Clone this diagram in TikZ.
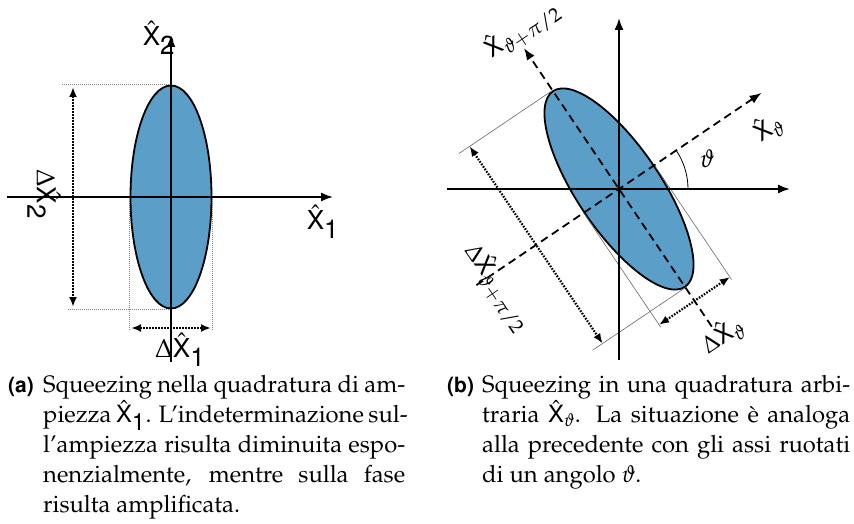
\documentclass[tikz,border=0pt]{standalone}
\usepackage[T1]{fontenc}
\usepackage{mathpazo}
\usepackage{helvet}
\usetikzlibrary{arrows.meta,shapes.geometric}
\DeclareMathSizes{24}{24}{20}{15}
\definecolor{ellblue}{RGB}{91,158,200}
\newcommand\Xh{\hat{\textsf{X}}}
\tikzset{
  axis/.style={line width=1.8pt, -{Latex[length=12pt,width=9pt]}},
  daxis/.style={line width=1.8pt, dash pattern=on 8pt off 5pt, -{Latex[length=12pt,width=9pt]}},
  meas/.style={line width=2.2pt, dash pattern=on 1.6pt off 1.4pt, {Latex[length=10pt,width=8pt]}-{Latex[length=10pt,width=8pt]}},
  guide/.style={gray, line width=0.7pt, dash pattern=on 1pt off 1pt},
  tguide/.style={black!60, line width=0.6pt},
  squeeze/.style={ellipse, fill=ellblue, draw=black, line width=1.8pt, inner sep=0pt},
  lbl/.style={inner sep=0pt, font=\sffamily\fontsize{26}{28}\selectfont},
  lblr/.style={inner sep=0pt, font=\sffamily\fontsize{24}{26}\selectfont},
  captext/.style={inner sep=0pt, anchor=base west, font=\fontsize{23.8}{30}\selectfont},
  caplab/.style={inner sep=0pt, anchor=base west, font=\sffamily\bfseries\fontsize{21}{30}\selectfont},
}
\begin{document}
\begin{tikzpicture}[x=1pt,y=-1pt]
\useasboundingbox (0,0) rectangle (854,524);
% ---------- left diagram
\node[squeeze, minimum width=81pt, minimum height=223pt] (EL) at (171,197) {};
\draw[guide] (EL.north) -- ++(-109,0);
\draw[guide] (EL.south) -- ++(-104,0);
\draw[guide] (EL.west) -- ++(0,133);
\draw[guide] (EL.east) -- ++(0,133);
\coordinate (m2a) at (73,87);
\coordinate (m2b) at (73,307);
\coordinate (m1a) at (131,328);
\coordinate (m1b) at (211,328);
\draw[meas] (m2a) -- (m2b);
\draw[meas] (m1a) -- (m1b);
\coordinate (hxl) at (7,197);
\coordinate (hxr) at (333,197);
\coordinate (vxb) at (171,362);
\coordinate (vxt) at (171,35);
\draw[axis] (hxl) -- (hxr);
\draw[axis] (vxb) -- (vxt);
\node[lbl] (lx2) at (159,38) {$\Xh_{\textsf{2}}$};
\node[lbl] (lx1) at (323,222) {$\Xh_{\textsf{1}}$};
\node[lbl, rotate=-90] (ldx2) at (44,194) {$\Delta\Xh_{\textsf{2}}$};
\node[lbl] (ldx1) at (180,350) {$\Delta\Xh_{\textsf{1}}$};
% ---------- right diagram
\node[squeeze, minimum width=83.6pt, minimum height=236pt, rotate=34] (ER) at (619,189) {};
\draw[tguide] (ER.north) -- ++(214:113pt);
\draw[tguide] (ER.south) -- ++(214:112pt);
\draw[tguide] (ER.east) -- ++(304:138pt);
\draw[tguide] (ER.west) -- ++(304:138pt);
\draw[meas] ([shift={(214:100pt)}]ER.north) -- ([shift={(214:100pt)}]ER.south);
\draw[meas] ([shift={(304:135pt)}]ER.west) -- ([shift={(304:135pt)}]ER.east);
\coordinate (rhl) at (447,189);
\coordinate (rhr) at (790,189);
\coordinate (rvb) at (619,360);
\coordinate (rvt) at (619,18);
\draw[axis] (rhl) -- (rhr);
\draw[axis] (rvb) -- (rvt);
\draw[daxis] ([shift={(214:172pt)}]ER.center) -- ([shift={(34:172pt)}]ER.center);
\draw[daxis] ([shift={(304:166pt)}]ER.center) -- ([shift={(124:170pt)}]ER.center);
\draw[line width=0.8pt] ([shift={(0:69pt)}]ER.center) arc[start angle=0, end angle=34, radius=69pt];
\fill (ER.center) circle (2.2pt);
\node[inner sep=0pt, font=\fontsize{25}{27}\selectfont] (th) at (707,159) {$\vartheta$};
\node[lblr, rotate=34] (rxp) at (522,30) {$\Xh_{\vartheta+\pi/2}$};
\node[lblr, rotate=34] (rx) at (768,128) {$\Xh_{\vartheta}$};
\node[lblr, rotate=-56] (rdxp) at (497,287) {$\Delta\Xh_{\vartheta+\pi/2}$};
\node[lblr, rotate=34] (rdx) at (722,336) {$\Delta\Xh_{\vartheta}$};
% ---------- captions
\node[caplab] (ca) at (8,392) {(a)};
\node[captext] (a1) at (43,392) {\makebox[362pt][s]{Squeezing nella quadratura di am-}};
\node[captext] (a2) at (43,422) {\makebox[362pt][s]{piezza $\Xh_{\textsf{1}}$. L'indeterminazione sul-}};
\node[captext] (a3) at (43,452) {\makebox[362pt][s]{l'ampiezza risulta diminuita espo-}};
\node[captext] (a4) at (43,482) {\makebox[362pt][s]{nenzialmente, mentre sulla fase}};
\node[captext] (a5) at (43,512) {risulta amplificata.};
\node[caplab] (cb) at (447,392) {(b)};
\node[captext] (b1) at (482,392) {\makebox[368pt][s]{Squeezing in una quadratura arbi-}};
\node[captext] (b2) at (482,422) {\makebox[368pt][s]{traria $\Xh_{\vartheta}$. La situazione \`e analoga}};
\node[captext] (b3) at (482,452) {\makebox[368pt][s]{alla precedente con gli assi ruotati}};
\node[captext] (b4) at (482,482) {di un angolo $\vartheta$.};
\end{tikzpicture}
\end{document}
